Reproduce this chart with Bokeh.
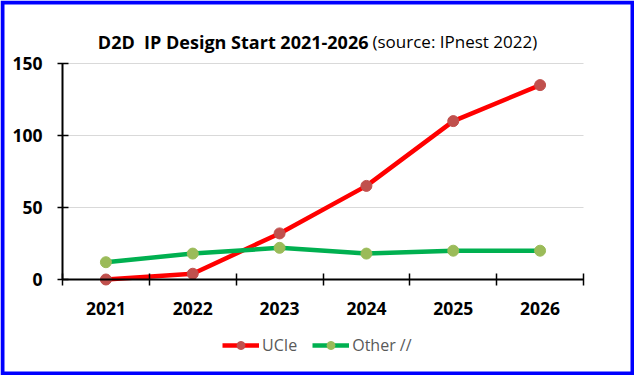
from bokeh.plotting import figure
from bokeh.models import (FixedTicker, Range1d, Legend, LegendItem, Label, BoxAnnotation)
from bokeh.embed import file_html
from bokeh.resources import INLINE

years = ["2021", "2022", "2023", "2024", "2025", "2026"]
ucie = [0, 4, 32, 65, 110, 135]
other = [12, 18, 22, 18, 20, 20]
y_ticks = [0, 50, 100, 150]

xs = list(range(1, len(years) + 1))
x_lo, x_hi = 0.5, len(years) + 0.5
y_lo, y_hi = y_ticks[0], y_ticks[-1]

W, H = 634, 375
# pixel layout of the plotting area inside the canvas
left_px, right_px, top_px, bottom_px = 62, 583, 63, 279
sx = (right_px - left_px) / (x_hi - x_lo)
sy = (bottom_px - top_px) / (y_hi - y_lo)

p = figure(width=W, height=H, output_backend="svg", toolbar_location=None, title=None,
           x_range=Range1d(x_lo - left_px / sx, x_hi + (W - right_px) / sx),
           y_range=Range1d(y_lo - (H - bottom_px) / sy, y_hi + top_px / sy),
           min_border=0)
p.outline_line_color = None
p.background_fill_color = "white"
p.border_fill_color = "white"
p.xgrid.visible = False
p.ygrid.visible = False

# gridlines inside the plot area
p.segment(x0=x_lo, x1=x_hi, y0=y_ticks[1:], y1=y_ticks[1:], line_color="#D9D9D9", line_width=1)

# axes
p.xaxis.fixed_location = y_lo
p.xaxis.bounds = (x_lo, x_hi)
p.xaxis.ticker = FixedTicker(ticks=xs, minor_ticks=[x - 0.5 for x in xs] + [xs[-1] + 0.5])
p.xaxis.major_label_overrides = {x: y for x, y in zip(xs, years)}
p.xaxis.major_tick_in = 0
p.xaxis.major_tick_out = 0
p.xaxis.minor_tick_in = 6
p.xaxis.minor_tick_out = 6
p.xaxis.minor_tick_line_color = "black"
p.xaxis.minor_tick_line_width = 1.5
p.xaxis.axis_line_color = "black"
p.xaxis.axis_line_width = 2
p.xaxis.major_label_standoff = 16
p.yaxis.fixed_location = x_lo
p.yaxis.bounds = (y_lo, y_hi)
p.yaxis.ticker = FixedTicker(ticks=y_ticks)
p.yaxis.major_tick_in = 6
p.yaxis.major_tick_out = 5
p.yaxis.major_tick_line_width = 1.5
p.yaxis.minor_tick_line_color = None
p.yaxis.axis_line_width = 2
p.yaxis.major_label_standoff = 15
for ax in (p.xaxis, p.yaxis):
    ax.major_label_text_font = "Open Sans"
    ax.major_label_text_font_style = "bold"
    ax.major_label_text_font_size = "17.5px"
    ax.major_label_text_color = "black"

# series
l1 = p.line(xs, ucie, line_color="#FF0000", line_width=4.5)
s1 = p.scatter(xs, ucie, size=11, fill_color="#C0504D", line_color="#C0504D")
l2 = p.line(xs, other, line_color="#00B050", line_width=4.5)
s2 = p.scatter(xs, other, size=11, fill_color="#9BBB59", line_color="#9BBB59")

legend = Legend(items=[LegendItem(label="UCIe", renderers=[l1, s1]),
                       LegendItem(label="Other //", renderers=[l2, s2])],
                location=(222, 19), orientation="horizontal",
                label_text_font="Open Sans", label_text_font_size="16px",
                label_text_color="#595959", glyph_width=37, glyph_height=20,
                label_standoff=3, spacing=15, border_line_color=None,
                background_fill_alpha=0, margin=0, padding=0)
p.add_layout(legend, "center")

# title (bold part + normal part)
p.add_layout(Label(x=368, y=H - 41, x_units="screen", y_units="screen",
                   text="D2D \u00a0IP Design Start 2021-2026", text_align="right",
                   text_baseline="alphabetic", text_font="Open Sans",
                   text_font_style="bold", text_font_size="18px", text_color="black"))
p.add_layout(Label(x=372, y=H - 41, x_units="screen", y_units="screen",
                   text="(source: IPnest 2022)", text_align="left",
                   text_baseline="alphabetic", text_font="Open Sans",
                   text_font_size="17px", text_color="black"))

# blue frame around the whole chart
p.add_layout(BoxAnnotation(left=2, right=W - 2, bottom=2, top=H - 2,
                           left_units="screen", right_units="screen",
                           top_units="screen", bottom_units="screen",
                           fill_alpha=0, line_color="#0000FF", line_alpha=1.0,
                           line_width=4, line_join="miter", border_radius=0))

open("out.html", "w").write(file_html(p, INLINE))
